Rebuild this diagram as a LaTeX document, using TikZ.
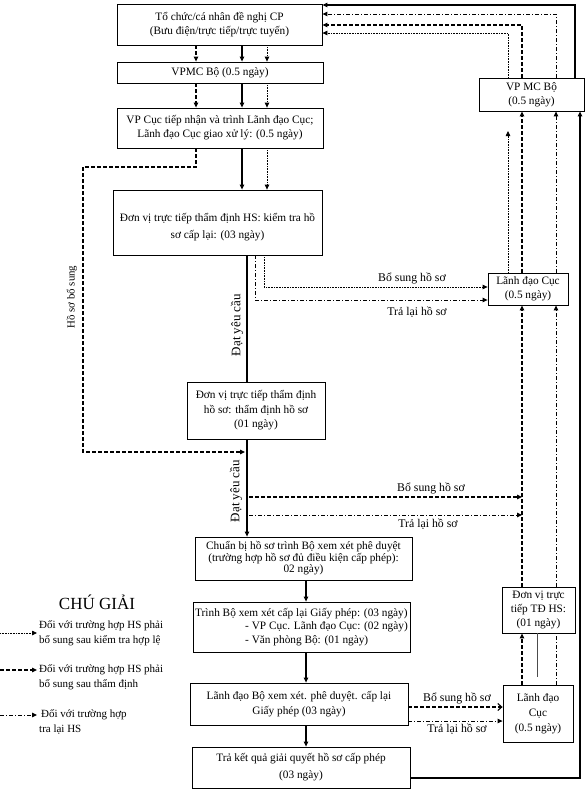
\documentclass[tikz,border=0pt]{standalone}
\usepackage{fontspec}
\setmainfont{Liberation Serif}
\usetikzlibrary{arrows.meta,calc}
\begin{document}
\begin{tikzpicture}[x=1pt,y=-1pt,
  box/.style={draw, line width=0.8pt, inner sep=1pt, align=center, font=\fontsize{11.3}{14}\selectfont},
  lbl/.style={font=\fontsize{11.8}{13}\selectfont, inner sep=0pt},
  tip/.style={-{Triangle[length=5pt,width=4.5pt]}},
  opentip/.style={-{Straight Barb[length=4pt,width=7pt]}},
  sol/.style={line width=1.1pt},
  dsh/.style={line width=1.1pt, dash pattern=on 3.5pt off 2.5pt},
  dda/.style={line width=1pt, dash pattern=on 4pt off 2pt on 1pt off 2pt},
  dot/.style={line width=0.8pt, dash pattern=on 0.8pt off 0.8pt},
  thinl/.style={line width=0.4pt, black!70}
]
\useasboundingbox (0,0) rectangle (586,790);

% ---------- main column boxes ----------
\node[box, minimum width=205pt, minimum height=41pt] (A) at (219.5,24.5)
  {Tổ chức/cá nhân đề nghị CP\\(Bưu điện/trực tiếp/trực tuyến)};
\node[box, minimum width=206pt, minimum height=21pt] (B) at (220,72.5)
  {VPMC Bộ (0.5 ngày)};
\node[box, minimum width=206pt, minimum height=40pt] (C) at (220,128)
  {VP Cục tiếp nhận và trình Lãnh đạo Cục;\\Lãnh đạo Cục giao xử lý: (0.5 ngày)};
\node[box, minimum width=209pt, minimum height=65pt, font=\fontsize{11.3}{17}\selectfont] (D) at (217.5,222.5)
  {\rule{0pt}{17pt}Đơn vị trực tiếp thẩm định HS: kiểm tra hồ\\sơ cấp lại: (03 ngày)};
\node[box, minimum width=138pt, minimum height=57pt, font=\fontsize{11.3}{14.5}\selectfont] (E) at (256,410.5)
  {Đơn vị trực tiếp thẩm định\\hồ sơ: thẩm định hồ sơ\\(01 ngày)};
\node[box, minimum width=217pt, minimum height=43pt, font=\fontsize{11.3}{11.5}\selectfont] (F) at (303.5,558.5)
  {Chuẩn bị hồ sơ trình Bộ xem xét phê duyệt\\(trường hợp hồ sơ đủ điều kiện cấp phép):\\02 ngày)};
\node[box, minimum width=217pt, minimum height=50pt, align=left, font=\fontsize{11.3}{13.5}\selectfont] (G) at (301.5,627)
  {Trình Bộ xem xét cấp lại Giấy phép: (03 ngày)\\\hspace*{50pt}- VP Cục. Lãnh đạo Cục: (02 ngày)\\\hspace*{50pt}- Văn phòng Bộ: (01 ngày)};
\node[box, minimum width=218pt, minimum height=42pt, font=\fontsize{11.3}{15}\selectfont] (H) at (299,704)
  {Lãnh đạo Bộ xem xét. phê duyệt. cấp lại\\Giấy phép (03 ngày)};
\node[box, minimum width=218pt, minimum height=41pt, font=\fontsize{11.3}{17}\selectfont] (I) at (301,767.5)
  {Trả kết quả giải quyết hồ sơ cấp phép\\(03 ngày)};

% ---------- right column boxes ----------
\node[box, minimum width=105pt, minimum height=33pt] (J) at (531.5,94.5)
  {VP MC Bộ\\(0.5 ngày)};
\node[box, minimum width=80pt, minimum height=32pt] (K) at (528,289)
  {Lãnh đạo Cục\\(0.5 ngày)};
\node[box, minimum width=73pt, minimum height=46pt, font=\fontsize{11.3}{14}\selectfont] (L) at (538.5,610)
  {Đơn vị trực\\tiếp TĐ HS:\\(01 ngày)};
\node[box, minimum width=70pt, minimum height=57pt, font=\fontsize{11.3}{15}\selectfont] (M) at (538,713.5)
  {Lãnh đạo\\Cục\\(0.5 ngày)};

% ---------- helper coordinates ----------
\coordinate (xA) at (196,0);
\coordinate (xB) at (242,0);
\coordinate (xC) at (267,0);
\coordinate (xD) at (247,0);
\coordinate (xE) at (264,0);
\coordinate (xF) at (255,0);
\coordinate (xG) at (306,0);
\coordinate (xR0) at (508,0);
\coordinate (xR1) at (522,0);
\coordinate (xR2) at (556,0);
\coordinate (xR3) at (580,0);
\coordinate (xR4) at (575,0);
\coordinate (yA1) at (0,5);
\coordinate (yA2) at (0,14);
\coordinate (yA3) at (0,25);
\coordinate (yA4) at (0,33);
\coordinate (yK1) at (0,287);
\coordinate (yK2) at (0,300);
\coordinate (yH1) at (0,707);
\coordinate (yH2) at (0,721);
\coordinate (yI1) at (0,778);
\coordinate (hb1) at (83,167);
\coordinate (hb2) at (245,452);
\coordinate (s1) at (249,497);
\coordinate (s2) at (249,515);
\coordinate (dotend) at (508,131);
\coordinate (thinend) at (537,677);

% ---------- main column connectors ----------
\draw[dsh,tip] (A.south -| xA) -- (B.north -| xA);
\draw[sol,tip] (A.south -| xB) -- (B.north -| xB);
\draw[dot,tip] (A.south -| xC) -- (B.north -| xC);
\draw[dsh,tip] (B.south -| xA) -- (C.north -| xA);
\draw[sol,tip] (B.south -| xB) -- (C.north -| xB);
\draw[dot,tip] (B.south -| xC) -- (C.north -| xC);
\draw[sol,tip] (C.south -| xB) -- (D.north -| xB);
\draw[dot,tip] (C.south -| xC) -- (D.north -| xC);

% Ho so bo sung loop
\draw[dsh] (C.south -| xA) |- (hb1);
\draw[dsh,tip] (hb1) |- (hb2);
\node[lbl, rotate=90, font=\fontsize{10.8}{12}\selectfont] (hsbs) at (72,297) {Hồ sơ bổ sung};

% D -> E -> F
\draw[sol] (D.south -| xD) -- (E.north -| xD);
\draw[sol,tip] (E.south -| xD) -- (F.north -| xD);
\node[lbl, rotate=90, font=\fontsize{13}{14}\selectfont] (dyc1) at (237,325) {Đạt yêu cầu};
\node[lbl, rotate=90, font=\fontsize{13}{14}\selectfont] (dyc2) at (236,491) {Đạt yêu cầu};

% D -> K
\draw[dot,tip] (D.south -| xE) |- (K.west |- yK1);
\draw[dda,tip] (D.south -| xF) |- (K.west |- yK2);
\node[lbl] (bs1) at (412,278) {Bổ sung hồ sơ};
\node[lbl] (tl1) at (417,312) {Trả lại hồ sơ};

% E -> right column
\draw[dsh,tip] (s1) -- (s1 -| xR1);
\draw[dda,tip] (s2) -- (s2 -| xR1);
\node[lbl] (bs2) at (431,488) {Bổ sung hồ sơ};
\node[lbl] (tl2) at (428,524) {Trả lại hồ sơ};

% F -> G -> H -> I
\draw[sol,tip] (F.south -| xG) -- (G.north -| xG);
\draw[sol,tip] (G.south -| xG) -- (H.north -| xG);
\draw[sol,tip] (H.south -| xG) -- (I.north -| xG);

% H -> M
\draw[dsh,opentip] (H.east |- yH1) -- (M.west |- yH1);
\draw[dda,tip] (H.east |- yH2) -- (M.west |- yH2);
\node[lbl] (bs3) at (457,698) {Bổ sung hồ sơ};
\node[lbl] (tl3) at (457,729) {Trả lại hồ sơ};

% ---------- right column connectors ----------
\draw[dsh,tip] (M.north -| xR1) -- (L.south -| xR1);
\draw[dda] (M.north -| xR2) -- (L.south -| xR2);
\draw[thinl] (L.south -| thinend) -- (thinend);
\draw[dsh,tip] (L.north -| xR1) -- (K.south -| xR1);
\draw[dda,tip] (L.north -| xR2) -- (K.south -| xR2);
\draw[dot,tip] (K.north -| xR0) -- (dotend);
\draw[dsh,tip] (K.north -| xR1) -- (J.south -| xR1);
\draw[dda,tip] (K.north -| xR2) -- (J.south -| xR2);

% I -> J (solid return)
\draw[sol,tip] (I.east |- yI1) -| (J.south -| xR3);

% J -> A
\draw[sol,tip] (J.north -| xR4) |- (A.east |- yA1);
\draw[dda,tip] (J.north -| xR2) |- (A.east |- yA2);
\draw[dsh,tip] (J.north -| xR1) |- (A.east |- yA3);
\draw[dot,tip] (J.north -| xR0) |- (A.east |- yA4);

% ---------- legend ----------
\node[font=\fontsize{17}{18}\selectfont, inner sep=0pt] (leg) at (97,602) {CHÚ GIẢI};
\node[lbl, anchor=west, align=left, inner sep=2pt, font=\fontsize{11}{15}\selectfont] (l1) at (37,633)
  {Đối với trường hợp HS phải\\bổ sung sau kiểm tra hợp lệ};
\node[lbl, anchor=west, align=left, inner sep=2pt, font=\fontsize{11}{15}\selectfont] (l2) at (37,677)
  {Đối với trường hợp HS phải\\bổ sung sau thẩm định};
\node[lbl, anchor=west, align=left, inner sep=2pt, font=\fontsize{11}{15}\selectfont] (l3) at (37,722)
  {\hspace*{2pt}Đối với trường hợp\\tra lại HS};
\coordinate (la1) at (0,633);
\coordinate (la2) at (0,670);
\coordinate (la3) at (0,715);
\draw[dot,tip] (la1) -- (la1 -| l1.west);
\draw[dsh,tip] (la2) -- (la2 -| l2.west);
\draw[dda,tip] (la3) -- (la3 -| l3.west);
\end{tikzpicture}
\end{document}
